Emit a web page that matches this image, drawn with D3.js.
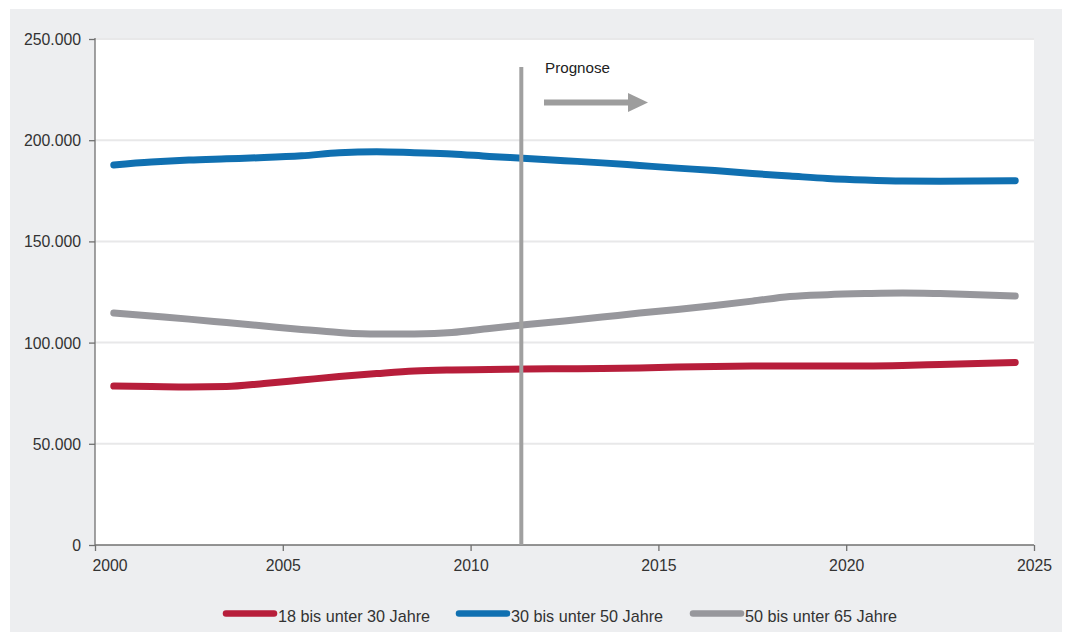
<!DOCTYPE html>
<html><head><meta charset="utf-8">
<script src="https://cdn.jsdelivr.net/npm/d3@7"></script>
<style>html,body{margin:0;padding:0;background:#fff}svg{display:block}text{font-family:"Liberation Sans",Arial,sans-serif}</style>
</head><body>
<svg id="c" width="1069" height="636"></svg>
<script>
const years = d3.range(2000, 2025);
const series18_30 = [78500,78300,78100,78300,79800,81500,83200,84700,86000,86500,86700,87000,87100,87200,87500,87900,88200,88400,88500,88500,88500,88700,89200,89700,90200];
const series30_50 = [187800,189200,190200,190800,191400,192300,193800,194300,193800,193200,192000,191000,189900,188800,187500,186200,185000,183500,182300,181100,180300,179800,179700,179800,180000];
const series50_65 = [114600,113100,111600,109900,108200,106500,105000,104200,104300,105000,107000,108900,110700,112600,114600,116300,118300,120500,122800,123700,124200,124500,124200,123700,123000];
const seriesNames = ["18 bis unter 30 Jahre","30 bis unter 50 Jahre","50 bis unter 65 Jahre"];
const seriesColors = ["#b71e3b","#1070b1","#97979c"];
const yTicks = [0,50000,100000,150000,200000,250000];
const xTicks = [2000,2005,2010,2015,2020,2025];
const prognoseYear = 2011.35;
const prognoseLabel = "Prognose";

const svg = d3.select("#c");
const M = {l:95, r:1034, t:39, b:545};
const x = d3.scaleLinear().domain([2000,2025]).range([M.l, M.r]);
const y = d3.scaleLinear().domain([0,250000]).range([M.b, M.t]);
const fmt = v => d3.format(",")(v).replace(/,/g,".");

svg.append("rect").attr("x",10).attr("y",9).attr("width",1052).attr("height",623).attr("fill","#edeef0");
svg.append("rect").attr("x",M.l).attr("y",M.t).attr("width",M.r-M.l).attr("height",M.b-M.t).attr("fill","#fff");

// grid
svg.append("g").selectAll("line").data(yTicks.filter(d=>d>0)).join("line")
  .attr("x1",M.l).attr("x2",M.r).attr("y1",d=>y(d)).attr("y2",d=>y(d))
  .attr("stroke","#e8e8e9").attr("stroke-width",2);

// axes
const yAxis = svg.append("g").attr("transform",`translate(${M.l},0)`)
  .call(d3.axisLeft(y).tickValues(yTicks).tickFormat(fmt).tickSize(6).tickPadding(8));
const xAxis = svg.append("g").attr("transform",`translate(0,${M.b})`)
  .call(d3.axisBottom(x).tickValues(xTicks).tickFormat(d3.format("d")).tickSize(6).tickPadding(9));
[yAxis,xAxis].forEach(g=>{
  g.select(".domain").attr("stroke","#707070").attr("stroke-width",1.3);
  g.selectAll(".tick line").attr("stroke","#707070").attr("stroke-width",1.3);
  g.selectAll(".tick text").attr("font-size",15.8).attr("fill","#333").attr("font-family","Liberation Sans, Arial, sans-serif");
});
yAxis.select(".domain").attr("d",`M0,${M.b}V${M.t-1}`);
xAxis.select(".domain").attr("d",`M${M.l},0H${M.r}`);
yAxis.selectAll(".tick text").attr("dy","0.35em");
xAxis.selectAll(".tick text").filter(d=>d===2000).attr("text-anchor","start").attr("dx",-3);

// lines
const allSeries = [series18_30, series30_50, series50_65];
const line = d3.line().x((d,i)=>x(years[i]+0.5)).y(d=>y(d)).curve(d3.curveMonotoneX);
allSeries.forEach((s,k)=>{
  svg.append("path").datum(s).attr("d",line).attr("fill","none")
    .attr("stroke",seriesColors[k]).attr("stroke-width",7)
    .attr("stroke-linecap","round").attr("stroke-linejoin","round");
});

// prognose marker
const px = x(prognoseYear);
svg.append("line").attr("x1",px).attr("x2",px).attr("y1",67).attr("y2",M.b)
  .attr("stroke","#a0a0a0").attr("stroke-width",4);
svg.append("text").attr("x",545).attr("y",73).attr("font-size",15.2).attr("fill","#222").text(prognoseLabel);
svg.append("line").attr("x1",544).attr("x2",630).attr("y1",102.5).attr("y2",102.5)
  .attr("stroke","#9d9d9d").attr("stroke-width",6);
svg.append("path").attr("d","M628,93 L648,102.5 L628,112 Z").attr("fill","#9d9d9d");

// legend
const legX = [223, 456, 690];
seriesNames.forEach((n,k)=>{
  svg.append("line").attr("x1",legX[k]+3).attr("x2",legX[k]+51).attr("y1",613.5).attr("y2",613.5)
    .attr("stroke",seriesColors[k]).attr("stroke-width",6.5).attr("stroke-linecap","round");
  svg.append("text").attr("x",legX[k]+55).attr("y",622).attr("font-size",16.2).attr("fill","#333").text(n);
});
</script>
</body></html>
